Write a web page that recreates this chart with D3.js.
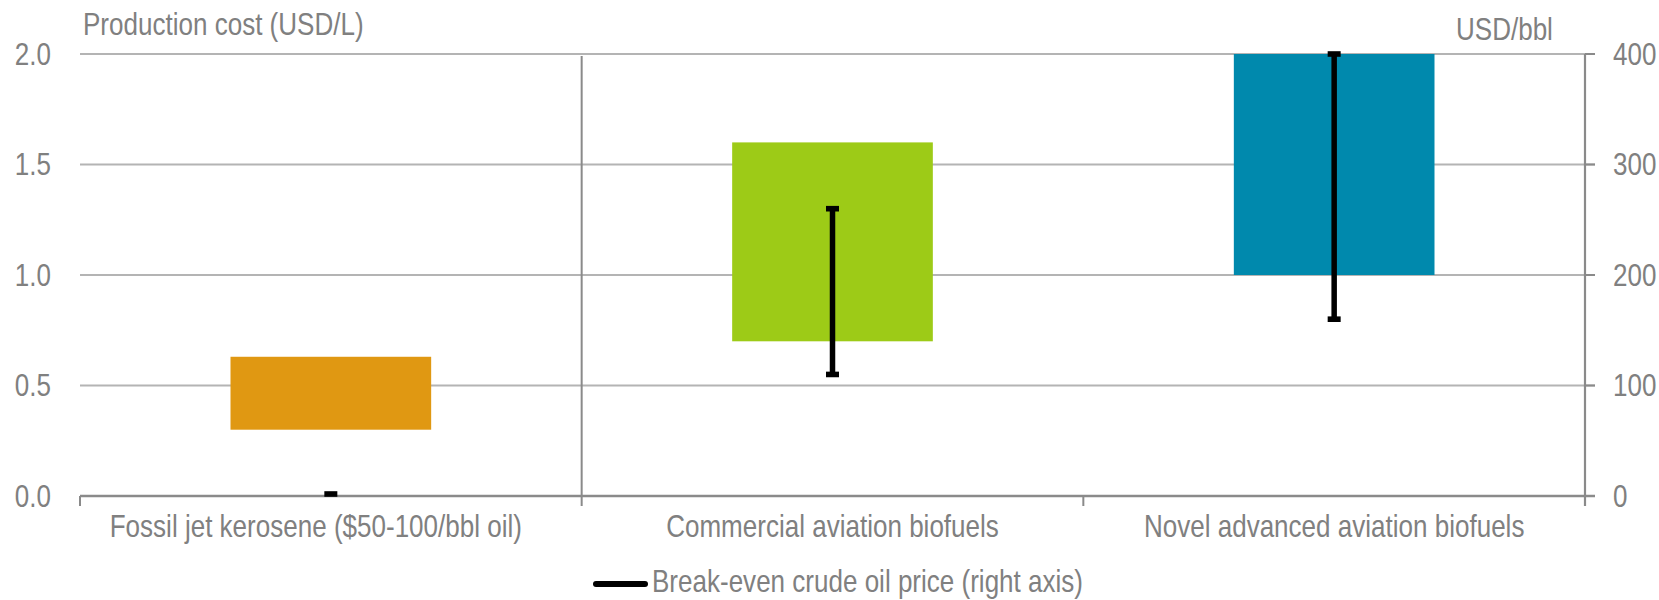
<!DOCTYPE html>
<html>
<head>
<meta charset="utf-8">
<script src="https://cdn.jsdelivr.net/npm/d3@7"></script>
<style>
  html, body { margin: 0; padding: 0; background: #fff; }
  svg text { font-family: "Liberation Sans Narrow", "Arial Narrow", "Liberation Sans", Arial, sans-serif; fill: #808080; }
</style>
</head>
<body>
<svg id="chart" width="1659" height="600"></svg>
<script>
// Production cost ranges (USD/L) and break-even crude oil price ranges (USD/bbl)
const categories = [
  "Fossil jet kerosene ($50-100/bbl oil)",
  "Commercial aviation biofuels",
  "Novel advanced aviation biofuels"
];
const costLow  = [0.30, 0.70, 1.00];
const costHigh = [0.63, 1.60, 2.00];
const breakEvenLow  = [0, 110, 160];
const breakEvenHigh = [0, 260, 400];
const barColors = ["#E09812", "#9DCB17", "#0089AD"];

const leftTicks  = [0, 0.5, 1.0, 1.5, 2.0];
const rightTicks = [0, 100, 200, 300, 400];

const leftTitle = "Production cost (USD/L)";
const rightTitle = "USD/bbl";
const legendLabel = "Break-even crude oil price (right axis)";

const svg = d3.select("#chart");
const margin = { left: 80, right: 74, top: 54, bottom: 104 };
const W = 1659, H = 600;
const x0 = margin.left, x1 = W - margin.right;
const yTop = margin.top, yBot = H - margin.bottom;

const x = d3.scaleBand().domain(categories).range([x0, x1]).paddingInner(0).paddingOuter(0);
const yL = d3.scaleLinear().domain([0, 2]).range([yBot, yTop]);
const yR = d3.scaleLinear().domain([0, 400]).range([yBot, yTop]);

const gridColor = "#b4b4b4";
const axisColor = "#8a8a8a";
const fontSize = 31;

// Condensed text: use the narrow face if present, otherwise squeeze the regular face.
const probe = svg.append("text").attr("font-size", fontSize).text("Commercial aviation biofuels");
const natural = probe.node().getComputedTextLength();
probe.remove();
const squeeze = natural > 360 ? 0.84 : 1;

function placeText(sel, px, py, anchor) {
  sel.attr("text-anchor", anchor || "start")
     .attr("font-size", fontSize)
     .attr("transform", (d, i) => {
       const xx = typeof px === "function" ? px(d, i) : px;
       const yy = typeof py === "function" ? py(d, i) : py;
       return `translate(${xx},${yy}) scale(${squeeze},1)`;
     });
  return sel;
}

// horizontal gridlines
svg.append("g").selectAll("line").data(leftTicks.filter(d => d > 0)).join("line")
  .attr("x1", x0).attr("x2", x1 + 10)
  .attr("y1", d => yL(d)).attr("y2", d => yL(d))
  .attr("stroke", gridColor).attr("stroke-width", 2.2);

// bars (floating ranges)
const barW = x.bandwidth() * 0.4;
svg.append("g").selectAll("rect").data(categories).join("rect")
  .attr("x", d => x(d) + (x.bandwidth() - barW) / 2)
  .attr("width", barW)
  .attr("y", (d, i) => yL(costHigh[i]))
  .attr("height", (d, i) => yL(costLow[i]) - yL(costHigh[i]))
  .attr("fill", (d, i) => barColors[i]);

// separator between fossil and bio categories
svg.append("line")
  .attr("x1", x(categories[1])).attr("x2", x(categories[1]))
  .attr("y1", yTop + 2).attr("y2", yBot)
  .attr("stroke", axisColor).attr("stroke-width", 2);

// x axis
const xAxisG = svg.append("g");
xAxisG.append("line").attr("x1", x0).attr("x2", x1 + 10)
  .attr("y1", yBot).attr("y2", yBot).attr("stroke", axisColor).attr("stroke-width", 2.4);
const bounds = categories.map(c => x(c)).concat([x1]);
xAxisG.selectAll("line.tick").data(bounds).join("line").attr("class", "tick")
  .attr("x1", d => d).attr("x2", d => d)
  .attr("y1", yBot).attr("y2", yBot + 10)
  .attr("stroke", axisColor).attr("stroke-width", 2);
placeText(
  xAxisG.selectAll("text").data(categories).join("text").text(d => d),
  (d, i) => x(d) + x.bandwidth() / 2 + (i === 0 ? -15 : 0), 537, "middle");

// break-even error bars on the right axis
const eb = svg.append("g");
categories.forEach((c, i) => {
  const cx = x(c) + x.bandwidth() / 2;
  const lo = yR(breakEvenLow[i]), hi = yR(breakEvenHigh[i]);
  eb.append("line").attr("x1", cx).attr("x2", cx).attr("y1", hi).attr("y2", lo)
    .attr("stroke", "#000").attr("stroke-width", 5.5);
  const caps = lo === hi ? [hi - 2] : [hi, lo];
  caps.forEach(v => {
    eb.append("rect").attr("x", cx - 6.5).attr("width", 13)
      .attr("y", v - 2.8).attr("height", 5.6).attr("fill", "#000");
  });
});

// left axis labels
placeText(
  svg.append("g").selectAll("text").data(leftTicks).join("text")
    .attr("dy", "0.35em").text(d => d3.format(".1f")(d)),
  51, d => yL(d), "end");

// right axis
const rAxis = svg.append("g");
rAxis.append("line").attr("x1", x1).attr("x2", x1)
  .attr("y1", yTop).attr("y2", yBot + 10)
  .attr("stroke", axisColor).attr("stroke-width", 2.2);
rAxis.selectAll("line.tick").data(rightTicks).join("line").attr("class", "tick")
  .attr("x1", x1).attr("x2", x1 + 10)
  .attr("y1", d => yR(d)).attr("y2", d => yR(d))
  .attr("stroke", axisColor).attr("stroke-width", 2);
placeText(
  rAxis.selectAll("text").data(rightTicks).join("text")
    .attr("dy", "0.35em").text(d => d),
  x1 + 28, d => yR(d), "start");

// axis titles
placeText(svg.append("text").text(leftTitle), 83, 35, "start");
placeText(svg.append("text").text(rightTitle), 1456, 40, "start");

// legend
const lg = svg.append("g");
lg.append("line").attr("x1", 596).attr("x2", 645).attr("y1", 584).attr("y2", 584)
  .attr("stroke", "#000").attr("stroke-width", 6).attr("stroke-linecap", "round");
placeText(lg.append("text").text(legendLabel), 652, 592, "start");
</script>
</body>
</html>
